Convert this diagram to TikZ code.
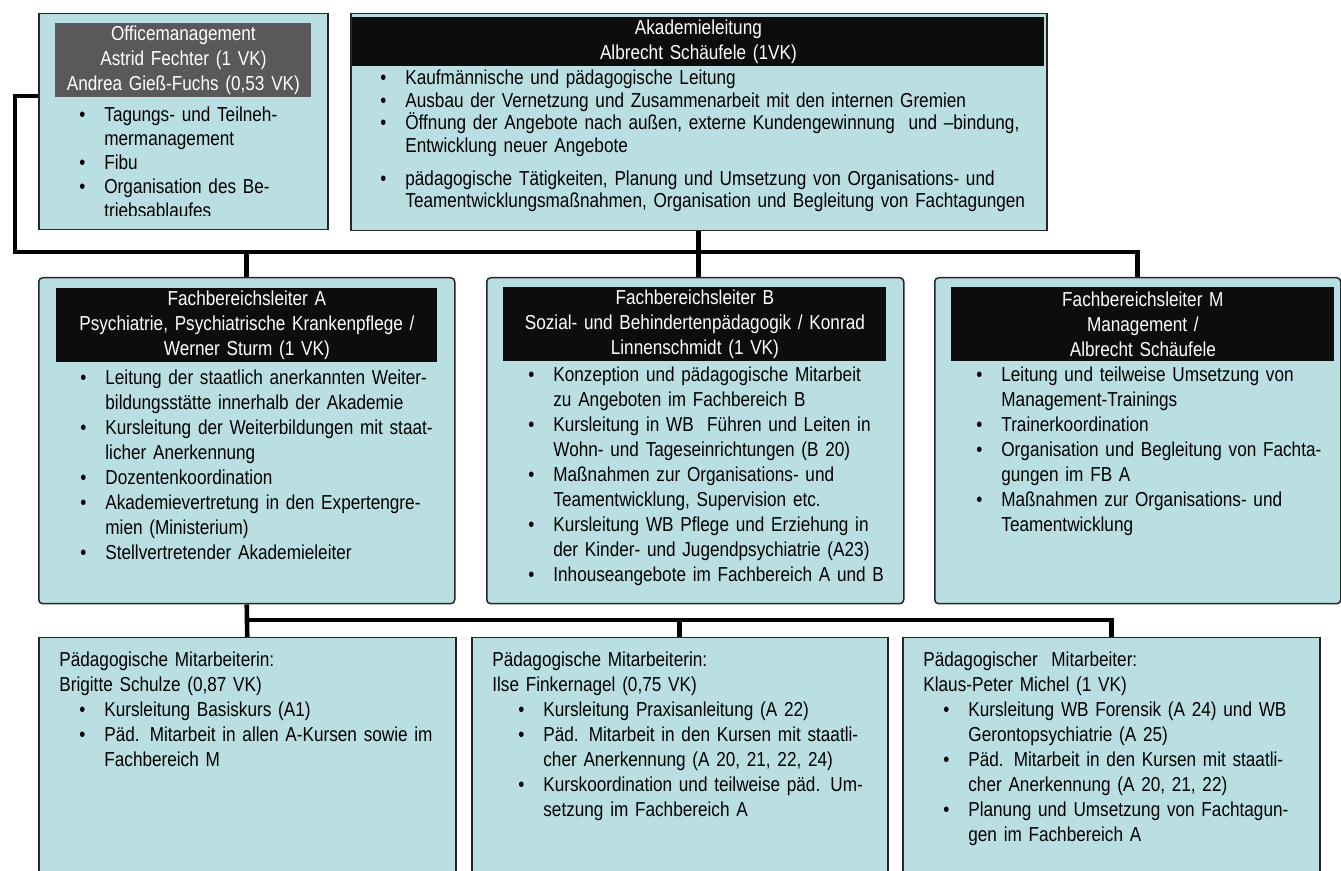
\documentclass[tikz,border=0pt]{standalone}
\usepackage{fontspec}
\setmainfont{Liberation Sans}[FakeStretch=0.85]
\definecolor{boxblue}{HTML}{BADFE2}
\definecolor{headblack}{HTML}{0D0D0D}
\definecolor{officegrey}{HTML}{595959}
% bullet line: optional indent, then text with hanging indent
\newcommand{\bul}[2][0pt]{\hangindent=\dimexpr#1+12.5pt\relax\hangafter=1\noindent\hspace*{#1}\makebox[12.5pt][l]{\textbullet}#2\par}
\newcommand{\bodyfont}{\fontsize{10.1}{12.5}\selectfont}

\begin{document}
\begin{tikzpicture}[x=0.5pt,y=-0.5pt,
    box/.style={draw=black!85, line width=0.75pt, fill=boxblue, anchor=north west, inner sep=0pt},
    head/.style={fill=headblack, text=white, anchor=north west, inner sep=0pt, align=center, font=\bodyfont},
    txt/.style={anchor=base west, inner sep=0pt, align=left, font=\bodyfont},
    conn/.style={line width=2.3pt}]
  \path[fill=white, use as bounding box] (0,0) rectangle (1341,871);
  \clip (0,0) rectangle (1341,871);

  % boxes
  \node[box, minimum width=144.5pt, minimum height=108pt] (office) at (38,13) {};
  \node[box, minimum width=348pt, minimum height=108.5pt] (akad) at (350,13) {};
  \node[box, rounded corners=2pt, minimum width=208pt, minimum height=163pt] (fbA) at (38,277) {};
  \node[box, rounded corners=2pt, minimum width=208.5pt, minimum height=163pt] (fbB) at (486,277) {};
  \node[box, rounded corners=2pt, minimum width=203pt, minimum height=163pt] (fbM) at (934,277) {};
  \node[box, minimum width=208.5pt, minimum height=140pt] (pmA) at (38,637) {};
  \node[box, minimum width=208pt, minimum height=140pt] (pmB) at (471,637) {};
  \node[box, minimum width=208.5pt, minimum height=140pt] (pmC) at (902,637) {};

  % headers
  \node[head, fill=officegrey, text width=128pt, minimum height=37pt] (officeH) at (55,23)
    {Officemanagement\\Astrid Fechter (1 VK)\\Andrea Gieß-Fuchs (0,53 VK)};
  \node[head, text width=346pt, minimum height=24.5pt] (akadH) at (352,17)
    {Akademieleitung\\Albrecht Schäufele (1VK)};
  \node[head, text width=190.5pt, minimum height=37pt] (fbAH) at (56,288)
    {Fachbereichsleiter A\\Psychiatrie, Psychiatrische Krankenpflege /\\Werner Sturm (1 VK)};
  \node[head, text width=191.5pt, minimum height=37pt] (fbBH) at (503,287)
    {Fachbereichsleiter B\\Sozial- und Behindertenpädagogik / Konrad\\Linnenschmidt (1 VK)};
  \node[head, text width=191.5pt, minimum height=37pt] (fbMH) at (951,287)
    {Fachbereichsleiter M\\Management /\\Albrecht Schäufele};

  % lists
  \begin{scope}
    \clip (38,13) rectangle (327,216);
    \node[txt, text width=110pt, font=\fontsize{10.1}{12}\selectfont] (officeL) at (79,122) {%
      \bul{Tagungs- und Teilneh-\newline mermanagement}
      \bul{Fibu}
      \bul{Organisation des Be-\newline triebsablaufes}};
  \end{scope}
  \node[txt, text width=325pt, font=\fontsize{10.1}{11.2}\selectfont] (akadL) at (380,85) {%
    \bul{Kaufmännische und pädagogische Leitung}
    \bul{Ausbau der Vernetzung und Zusammenarbeit mit den internen Gremien}
    \bul{Öffnung der Angebote nach außen, externe Kundengewinnung\ \ und –bindung,\newline Entwicklung neuer Angebote}
    \vspace{5.5pt}
    \bul{pädagogische Tätigkeiten, Planung und Umsetzung von Organisations- und\newline Teamentwicklungsmaßnahmen, Organisation und Begleitung von Fachtagungen}};
  \node[txt, text width=184pt] (fbAL) at (80,385) {%
    \bul{Leitung der staatlich anerkannten Weiter-\newline bildungsstätte innerhalb der Akademie}
    \bul{Kursleitung der Weiterbildungen mit staat-\newline licher Anerkennung}
    \bul{Dozentenkoordination}
    \bul{Akademievertretung in den Expertengre-\newline mien (Ministerium)}
    \bul{Stellvertretender Akademieleiter}};
  \node[txt, text width=185pt] (fbBL) at (528,382) {%
    \bul{Konzeption und pädagogische Mitarbeit\newline zu Angeboten im Fachbereich B}
    \bul{Kursleitung in WB\ \ Führen und Leiten in\newline Wohn- und Tageseinrichtungen (B 20)}
    \bul{Maßnahmen zur Organisations- und\newline Teamentwicklung, Supervision etc.}
    \bul{Kursleitung WB Pflege und Erziehung in\newline der Kinder- und Jugendpsychiatrie (A23)}
    \bul{Inhouseangebote im Fachbereich A und B}};
  \node[txt, text width=179pt] (fbML) at (976,382) {%
    \bul{Leitung und teilweise Umsetzung von\newline Management-Trainings}
    \bul{Trainerkoordination}
    \bul{Organisation und Begleitung von Fachta-\newline gungen im FB A}
    \bul{Maßnahmen zur Organisations- und\newline Teamentwicklung}};
  \node[txt, text width=195pt] (pmAL) at (59,667) {%
    Pädagogische Mitarbeiterin:\\Brigitte Schulze (0,87 VK)\par
    \bul[10pt]{Kursleitung Basiskurs (A1)}
    \bul[10pt]{Päd. Mitarbeit in allen A-Kursen sowie im\newline Fachbereich M}};
  \node[txt, text width=195pt] (pmBL) at (492,667) {%
    Pädagogische Mitarbeiterin:\\Ilse Finkernagel (0,75 VK)\par
    \bul[13pt]{Kursleitung Praxisanleitung (A 22)}
    \bul[13pt]{Päd. Mitarbeit in den Kursen mit staatli-\newline cher Anerkennung (A 20, 21, 22, 24)}
    \bul[13pt]{Kurskoordination und teilweise päd. Um-\newline setzung im Fachbereich A}};
  \node[txt, text width=195pt] (pmCL) at (923,667) {%
    Pädagogischer\ \ Mitarbeiter:\\Klaus-Peter Michel (1 VK)\par
    \bul[10pt]{Kursleitung WB Forensik (A 24) und WB\newline Gerontopsychiatrie (A 25)}
    \bul[10pt]{Päd. Mitarbeit in den Kursen mit staatli-\newline cher Anerkennung (A 20, 21, 22)}
    \bul[10pt]{Planung und Umsetzung von Fachtagun-\newline gen im Fachbereich A}};

  % connectors
  \coordinate (busTop) at (15,252);
  \coordinate (busLow) at (247,620);
  \draw[conn] (office.west |- 0,96) -| (busTop) -| (fbM.north);
  \draw[conn] (akad.south) -- (akad.south |- fbB.north);
  \draw[conn] (fbA.north |- busTop) -- (fbA.north);
  \draw[conn] (fbA.south) -- (pmA.north);
  \draw[conn] (busLow) -| (pmC.north);
  \draw[conn] (pmB.north |- busLow) -- (pmB.north);
\end{tikzpicture}
\end{document}
